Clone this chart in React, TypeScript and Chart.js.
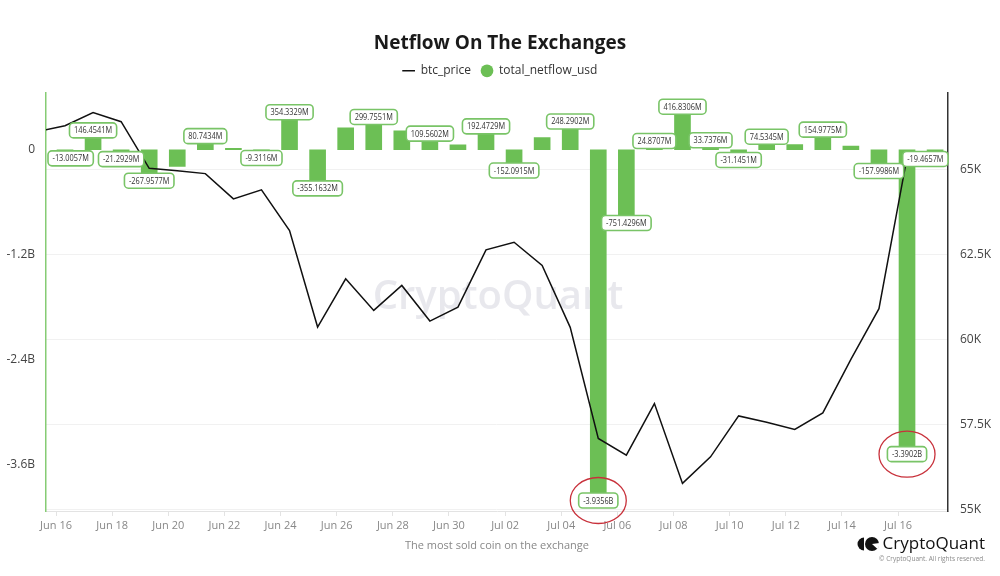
import React, { useEffect, useRef } from 'react';
import { Chart, registerables } from 'chart.js';

Chart.register(...registerables);

// ---------- data ----------
const DAYS = [
  'Jun 15', 'Jun 16', 'Jun 17', 'Jun 18', 'Jun 19', 'Jun 20', 'Jun 21', 'Jun 22', 'Jun 23',
  'Jun 24', 'Jun 25', 'Jun 26', 'Jun 27', 'Jun 28', 'Jun 29', 'Jun 30', 'Jul 01', 'Jul 02',
  'Jul 03', 'Jul 04', 'Jul 05', 'Jul 06', 'Jul 07', 'Jul 08', 'Jul 09', 'Jul 10', 'Jul 11',
  'Jul 12', 'Jul 13', 'Jul 14', 'Jul 15', 'Jul 16', 'Jul 17',
];

// total_netflow_usd in millions of USD
const NETFLOW_M: (number | null)[] = [
  null, -13.0057, 146.4541, -21.2929, -267.9577, -190, 80.7434, 15, -9.3116,
  354.3329, -355.1632, 250, 299.7551, 217, 109.5602, 57, 192.4729, -152.0915,
  140, 248.2902, -3935.6, -751.4296, 24.8707, 416.8306, 33.7376, -31.1451, 74.5345,
  60, 154.9775, 42, -157.9986, -3390.2, -19.4657,
];

const BTC_PRICE: (number | null)[] = [
  66115, 66290, 66680, 66408, 65038, 64971, 64883, 64141, 64405,
  63211, 60375, 61794, 60864, 61598, 60551, 60961, 62645, 62868,
  62184, 60366, 57101, 56612, 58128, 55781, 56562, 57764, 57579,
  57365, 57852, 59427, 60914, 65361, null,
];

const TICK_LABELS = [
  'Jun 16', 'Jun 18', 'Jun 20', 'Jun 22', 'Jun 24', 'Jun 26', 'Jun 28', 'Jun 30',
  'Jul 02', 'Jul 04', 'Jul 06', 'Jul 08', 'Jul 10', 'Jul 12', 'Jul 14', 'Jul 16',
];
const LEFT_TICKS = [0, -1200, -2400, -3600];
const RIGHT_TICKS = [55000, 57500, 60000, 62500, 65000];
const LABEL_HIDDEN = ['Jun 20', 'Jun 22', 'Jun 26', 'Jun 28', 'Jun 30', 'Jul 03', 'Jul 12', 'Jul 14'];
const CIRCLED = ['Jul 05', 'Jul 16'];

// ---------- styles / layout ----------
const GREEN = '#6cbf55';
const GREEN_AXIS = '#86cc74';
const LABEL_BORDER = '#79c467';
const FONT = '"Open Sans", "Noto Sans", sans-serif';
const TIME_SHIFT = 0.32; // tick marks sit at the start of each day
const X_MIN = 0.323;
const X_MAX = 32.46;

const fmtFlow = (v: number) =>
  Math.abs(v) >= 1000 ? `${(v / 1000).toFixed(4)}B` : `${v.toFixed(4)}M`;

const legendGapPlugin = {
  id: 'legendGap',
  beforeInit(chart: any) {
    const legend = chart.legend;
    if (!legend) return;
    const origFit = legend.fit;
    legend.fit = function () {
      origFit.call(this);
      this.height += 6;
    };
  },
};

const watermarkPlugin = {
  id: 'watermark',
  beforeDatasetsDraw(chart: any) {
    const { ctx, chartArea } = chart;
    ctx.save();
    ctx.font = `600 40px ${FONT}`;
    ctx.fillStyle = 'rgba(205, 205, 215, 0.45)';
    ctx.textAlign = 'center';
    ctx.textBaseline = 'middle';
    ctx.fillText('CryptoQuant', (chartArea.left + chartArea.right) / 2 + 1, 298);
    ctx.restore();
  },
};

const barLabelPlugin = {
  id: 'barLabels',
  afterDatasetsDraw(chart: any) {
    const { ctx, chartArea } = chart;
    const meta = chart.getDatasetMeta(1);
    const sx = 0.84;
    ctx.save();
    ctx.font = `8.8px ${FONT}`;
    ctx.textAlign = 'center';
    ctx.textBaseline = 'middle';
    meta.data.forEach((bar: any, i: number) => {
      const raw = chart.data.datasets[1].data[i];
      if (!raw || raw.y == null) return;
      const day = DAYS[raw.x];
      if (LABEL_HIDDEN.includes(day)) return;
      const v = raw.y as number;
      const text = fmtFlow(v);
      const tw = ctx.measureText(text).width * sx;
      const w = tw + 9;
      const h = 15;
      let cx = bar.x;
      let y0 = v >= 0 ? bar.y - h + 1 : bar.y;
      if (cx + w / 2 > chartArea.right) cx = chartArea.right - w / 2;
      if (cx - w / 2 < chartArea.left + 2) cx = chartArea.left + 2 + w / 2;
      if (y0 + h > chartArea.bottom - 3) y0 = chartArea.bottom - 3 - h;
      if (y0 < chartArea.top) y0 = chartArea.top;
      ctx.beginPath();
      ctx.roundRect(cx - w / 2, y0, w, h, 4);
      ctx.fillStyle = '#ffffff';
      ctx.fill();
      ctx.lineWidth = 1.6;
      ctx.strokeStyle = LABEL_BORDER;
      ctx.stroke();
      ctx.save();
      ctx.translate(cx, y0 + h / 2 + 0.5);
      ctx.scale(sx, 1);
      ctx.fillStyle = '#333333';
      ctx.fillText(text, 0, 0);
      ctx.restore();
      if (CIRCLED.includes(day)) {
        ctx.beginPath();
        ctx.ellipse(cx, y0 + h / 2, 28, 23, 0, 0, Math.PI * 2);
        ctx.lineWidth = 1.3;
        ctx.strokeStyle = '#c8313b';
        ctx.stroke();
      }
    });
    ctx.restore();
  },
};

const logoPlugin = {
  id: 'logo',
  afterDraw(chart: any) {
    const { ctx } = chart;
    ctx.save();
    ctx.fillStyle = '#111111';
    ctx.beginPath();
    ctx.arc(864, 544, 6.5, Math.PI / 2, Math.PI * 1.5);
    ctx.closePath();
    ctx.fill();
    ctx.beginPath();
    ctx.arc(872, 544, 7, 0, Math.PI * 2);
    ctx.fill();
    ctx.fillStyle = '#ffffff';
    ctx.beginPath();
    ctx.moveTo(872, 544);
    ctx.arc(872, 544, 7.5, -0.15, 0.75);
    ctx.closePath();
    ctx.fill();
    ctx.fillStyle = '#111111';
    ctx.font = `500 17px ${FONT}`;
    ctx.textAlign = 'right';
    ctx.textBaseline = 'middle';
    ctx.fillText('CryptoQuant', 985, 544);
    ctx.fillStyle = '#8a8a8a';
    ctx.font = `6.5px ${FONT}`;
    ctx.fillText('© CryptoQuant. All rights reserved.', 985, 559);
    ctx.restore();
  },
};

export default function App() {
  const canvasRef = useRef<HTMLCanvasElement | null>(null);

  useEffect(() => {
    document.body.style.margin = '0';
    const canvas = canvasRef.current;
    if (!canvas) return;

    const pricePoints = BTC_PRICE.map((p, i) => ({ x: i, y: p })).filter((d) => d.y != null);
    const flowPoints = NETFLOW_M.map((v, i) => ({ x: i, y: v })).filter((d) => d.y != null);

    const chart = new Chart(canvas, {
      type: 'bar',
      data: {
        datasets: [
          {
            type: 'line',
            label: 'btc_price',
            data: pricePoints as any,
            yAxisID: 'y1',
            borderColor: '#111111',
            backgroundColor: '#111111',
            borderWidth: 1.5,
            pointRadius: 0,
            pointStyle: 'line',
            tension: 0,
          },
          {
            type: 'bar',
            label: 'total_netflow_usd',
            data: flowPoints as any,
            yAxisID: 'y',
            backgroundColor: GREEN,
            borderWidth: 0,
            barThickness: 16,
            pointStyle: 'circle',
          } as any,
        ],
      },
      options: {
        responsive: false,
        animation: false,
        events: [],
        layout: { padding: { top: 5, left: 0, right: 0, bottom: 0 } },
        plugins: {
          title: {
            display: true,
            text: 'Netflow On The Exchanges',
            color: '#1a1a1a',
            font: { family: FONT, size: 19, weight: 'bold' },
            padding: { top: 27, bottom: 0 },
          },
          legend: {
            display: true,
            labels: {
              usePointStyle: true,
              boxHeight: 9,
              color: '#333333',
              font: { family: FONT, size: 12 },
              padding: 10,
            },
          },
          tooltip: { enabled: false },
        },
        scales: {
          x: {
            type: 'linear',
            offset: false,
            min: X_MIN,
            max: X_MAX,
            afterFit: (s: any) => {
              s.height = 65;
            },
            afterBuildTicks: (s: any) => {
              s.ticks = TICK_LABELS.map((lbl) => ({ value: DAYS.indexOf(lbl) - TIME_SHIFT }));
            },
            ticks: {
              autoSkip: false,
              maxRotation: 0,
              color: '#888888',
              font: { family: FONT, size: 11 },
              padding: 3,
              callback: (_v: any, i: number) => TICK_LABELS[i],
            },
            grid: { offset: false, drawOnChartArea: false, drawTicks: true, tickLength: 5, color: '#e3e3e3' },
            border: { color: '#e3e3e3', width: 1 },
            title: {
              display: true,
              text: 'The most sold coin on the exchange',
              color: '#888888',
              font: { family: FONT, size: 11 },
              padding: { top: 2, bottom: 24 },
            },
          },
          y: {
            position: 'left',
            min: -4125,
            max: 650,
            afterFit: (s: any) => {
              s.width = 46;
            },
            afterBuildTicks: (s: any) => {
              s.ticks = LEFT_TICKS.map((v) => ({ value: v }));
            },
            ticks: {
              color: '#444444',
              font: { family: FONT, size: 12 },
              padding: 11,
              callback: (v: any) => (v === 0 ? '0' : `${Number(v) / 1000}B`),
            },
            grid: { display: false, drawTicks: false },
            border: { color: GREEN_AXIS, width: 1.5 },
          },
          y1: {
            position: 'right',
            min: 54970,
            max: 67258,
            afterFit: (s: any) => {
              s.width = 52;
            },
            afterBuildTicks: (s: any) => {
              s.ticks = RIGHT_TICKS.map((v) => ({ value: v }));
            },
            ticks: {
              color: '#444444',
              font: { family: FONT, size: 12 },
              padding: 12,
              callback: (v: any) => `${Number(v) / 1000}K`,
            },
            grid: { drawOnChartArea: true, drawTicks: false, color: '#f1f1f1' },
            border: { color: '#333333', width: 1.5 },
          },
        },
      } as any,
      plugins: [legendGapPlugin, watermarkPlugin, barLabelPlugin, logoPlugin],
    });

    return () => chart.destroy();
  }, []);

  return (
    <div style={{ width: 1000, height: 576, background: '#ffffff' }}>
      <canvas ref={canvasRef} width={1000} height={576} style={{ display: 'block' }} />
    </div>
  );
}
